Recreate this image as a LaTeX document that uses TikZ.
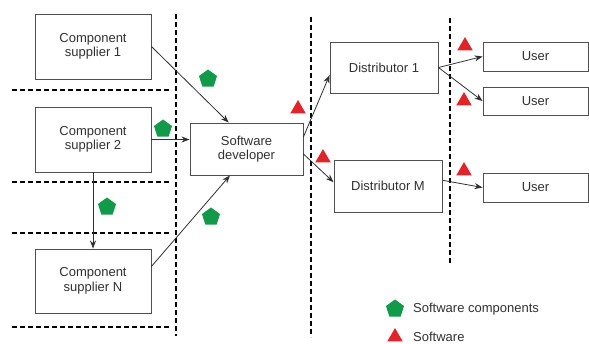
\documentclass[tikz,border=0pt]{standalone}
\usepackage{fontspec}
\setmainfont{Liberation Sans}
\usetikzlibrary{arrows.meta,shapes.geometric}

\definecolor{boxline}{HTML}{505050}
\definecolor{txt}{HTML}{303030}
\definecolor{swgreen}{HTML}{12994A}
\definecolor{swred}{HTML}{E0252A}

\tikzset{
  actor/.style={draw=boxline,line width=0.9pt,text=txt,align=center,
    font=\fontsize{13}{14.5}\selectfont,inner sep=0pt},
  flow/.style={draw=txt,line width=0.8pt,-{Stealth[length=8pt,width=6pt]}},
  border/.style={line width=2.4pt,dash pattern=on 5pt off 3pt},
  comp/.style={regular polygon,regular polygon sides=5,fill=swgreen,
    minimum size=19pt,inner sep=0pt},
  soft/.style={regular polygon,regular polygon sides=3,fill=swred,
    minimum size=18pt,inner sep=0pt},
  legend/.style={text=txt,font=\fontsize{13}{14.5}\selectfont,anchor=west,inner sep=0pt}
}

\begin{document}
\begin{tikzpicture}[x=1pt,y=-1pt]
\useasboundingbox (0,0) rectangle (589,344);
% boundaries between the parties
\foreach \y in {90,182,233,327}
  \draw[border] (12,\y) -- (171,\y);
\draw[border] (176,14) -- (176,336);
\draw[border] (311,17) -- (311,337);
\draw[border] (450,18) -- (450,265);
% parties
\node[actor,minimum width=116pt,minimum height=65pt] (S1) at (93,46.5) {Component\\supplier 1};
\node[actor,minimum width=116pt,minimum height=65pt] (S2) at (93,139.5) {Component\\supplier 2};
\node[actor,minimum width=116pt,minimum height=64pt] (SN) at (93,281) {Component\\supplier N};
\node[actor,minimum width=113pt,minimum height=52pt] (dev) at (246.5,149) {Software\\developer};
\node[actor,minimum width=108pt,minimum height=51pt] (D1) at (384,67.5) {Distributor 1};
\node[actor,minimum width=108pt,minimum height=52pt] (DM) at (388,186) {Distributor M};
\node[actor,minimum width=105pt,minimum height=29pt] (U1) at (535.5,56.5) {User};
\node[actor,minimum width=105pt,minimum height=28pt] (U2) at (535.5,101) {User};
\node[actor,minimum width=105pt,minimum height=29pt] (U3) at (535.5,187.5) {User};
% deliveries
\draw[flow] (S1.east) -- (dev.124);
\draw[flow] (S2.east) -- (S2.east -| dev.west);
\draw[flow] (S2.south) -- (SN.north);
\draw[flow] (SN.14) -- (dev.238);
\draw[flow] (dev.12) -- (D1.188);
\draw[flow] (dev.-5) -- (DM.176);
\draw[flow] (D1.east) -- (U1.west);
\draw[flow] (D1.east) -- (U2.west);
\draw[flow] (DM.6) -- (U3.west);
% what is passed on
\node[comp] (c1) at (208,79) {};
\node[comp] (c2) at (163,129) {};
\node[comp] (c3) at (107,207) {};
\node[comp] (c4) at (211,217) {};
\node[soft] (t1) at (298,109) {};
\node[soft] (t2) at (323,158) {};
\node[soft] (t3) at (465,46) {};
\node[soft] (t4) at (464,101) {};
\node[soft] (t5) at (464,171) {};
% legend
\node[comp] (lc) at (395,309) {};
\node[soft] (ls) at (395,337) {};
\node[legend] (lct) at (413,309) {Software components};
\node[legend] (lst) at (413,337) {Software};
\end{tikzpicture}
\end{document}
